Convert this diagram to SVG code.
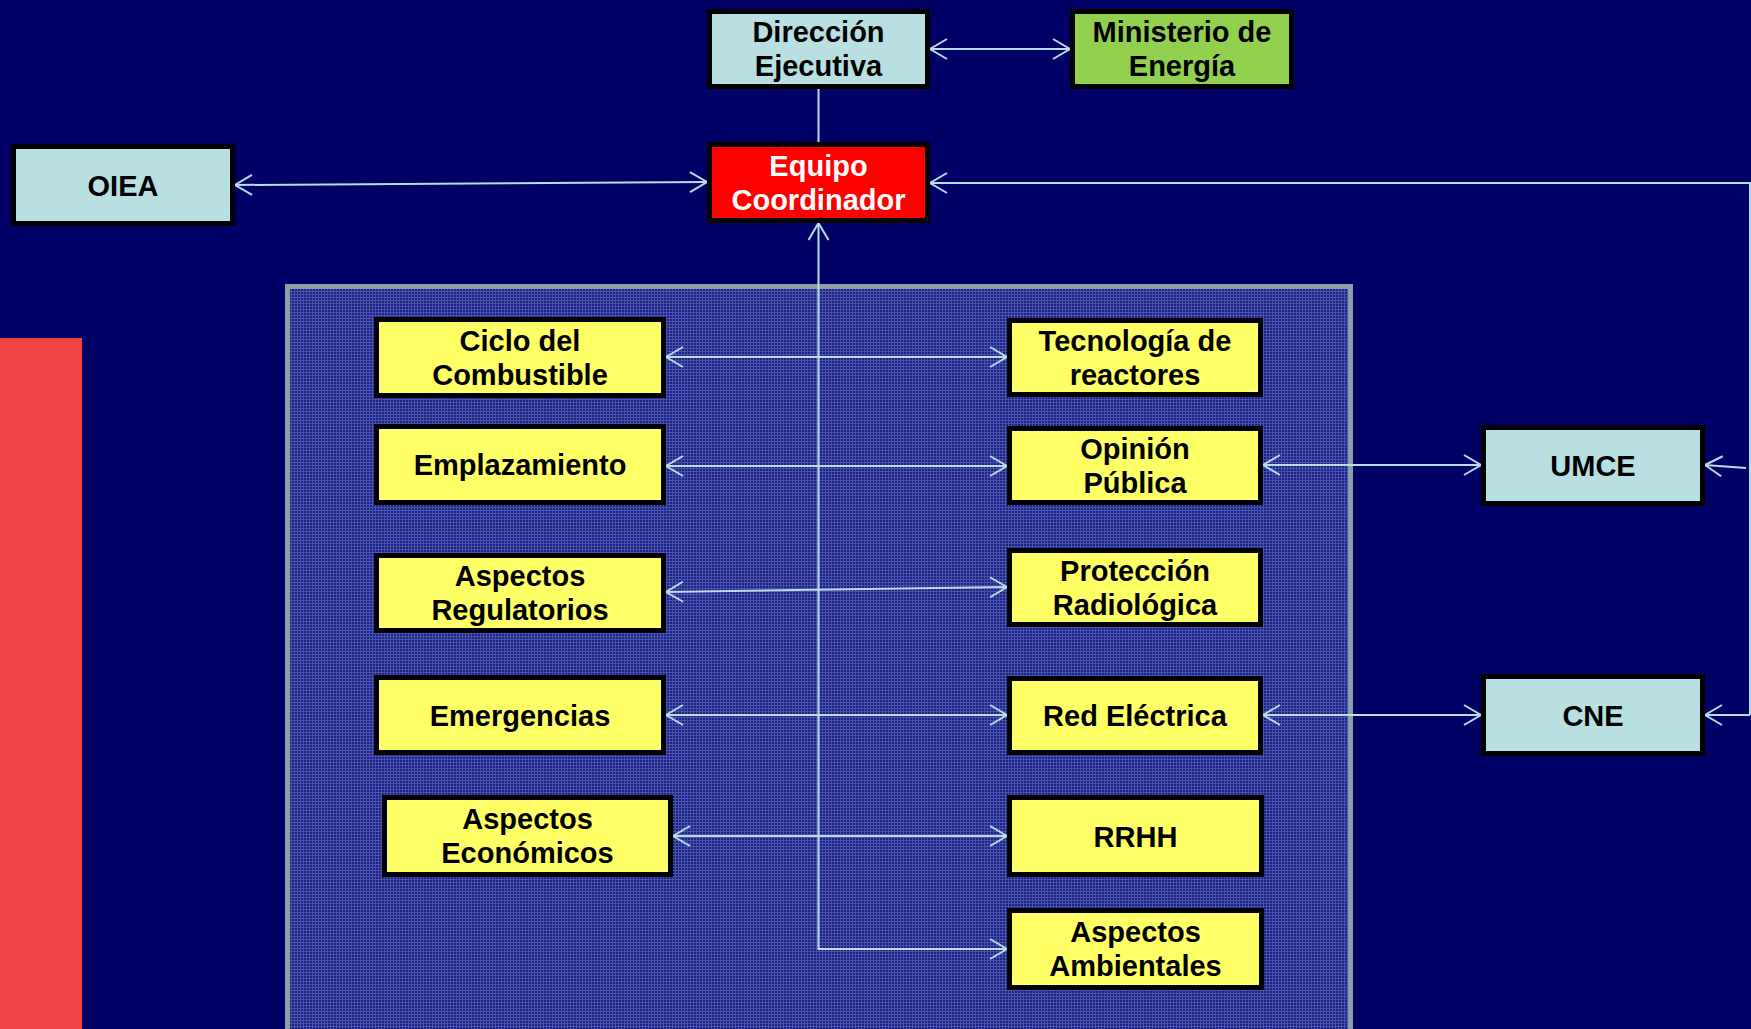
<svg xmlns="http://www.w3.org/2000/svg" width="1751" height="1029" viewBox="0 0 1751 1029">
<defs>
<style>
.box{stroke:#000;stroke-width:5}
.lb{fill:#b8e0e2}
.yb{fill:#ffff66}
.gb{fill:#92d050}
.rb{fill:#ff0000}
text{font-family:"Liberation Sans",Arial,sans-serif;font-weight:bold;font-size:29px;text-anchor:middle;fill:#000}
.wt{fill:#fff}
.cn{fill:none;stroke:#b7dde8;stroke-width:2}
</style>
<marker id="ah" markerUnits="userSpaceOnUse" viewBox="-20 -12 22 24" refX="0" refY="0" markerWidth="22" markerHeight="24" orient="auto-start-reverse">
<path d="M-17,-10 L0,0 L-17,10" fill="none" stroke="#b7dde8" stroke-width="2"/>
</marker>
<pattern id="grid" width="3" height="3" patternUnits="userSpaceOnUse">
<rect width="3" height="3" fill="#1c2282"/>
<rect width="3" height="1" fill="#4a52b0"/>
<rect width="1" height="3" fill="#4a52b0"/>
</pattern>
</defs>
<rect width="1751" height="1029" fill="#000066"/>
<rect x="0" y="338" width="82" height="691" fill="#f04346"/>
<rect x="287.5" y="286.5" width="1063" height="760" fill="url(#grid)" stroke="#8aa0a4" stroke-width="5"/>

<g id="connectors">
<line class="cn" x1="930" y1="49" x2="1070" y2="49" marker-start="url(#ah)" marker-end="url(#ah)"/>
<line class="cn" x1="818.5" y1="89" x2="818.5" y2="142"/>
<line class="cn" x1="235" y1="185" x2="707" y2="182" marker-start="url(#ah)" marker-end="url(#ah)"/>
<path class="cn" d="M1750,715 L1750,183 L930,183" marker-end="url(#ah)"/>
<line class="cn" x1="1750" y1="715" x2="1705" y2="715" marker-end="url(#ah)"/>
<line class="cn" x1="1746" y1="468" x2="1705" y2="465" marker-end="url(#ah)"/>
<path class="cn" d="M818.5,223 L818.5,949 L1007,949" marker-start="url(#ah)" marker-end="url(#ah)"/>
<line class="cn" x1="666" y1="357" x2="1007" y2="357" marker-start="url(#ah)" marker-end="url(#ah)"/>
<line class="cn" x1="666" y1="466" x2="1007" y2="466" marker-start="url(#ah)" marker-end="url(#ah)"/>
<line class="cn" x1="666" y1="592" x2="1007" y2="587" marker-start="url(#ah)" marker-end="url(#ah)"/>
<line class="cn" x1="666" y1="715" x2="1007" y2="715" marker-start="url(#ah)" marker-end="url(#ah)"/>
<line class="cn" x1="673" y1="836" x2="1007" y2="836" marker-start="url(#ah)" marker-end="url(#ah)"/>
<line class="cn" x1="1263" y1="465" x2="1481" y2="465" marker-start="url(#ah)" marker-end="url(#ah)"/>
<line class="cn" x1="1263" y1="715" x2="1481" y2="715" marker-start="url(#ah)" marker-end="url(#ah)"/>
</g>

<g id="direccion"><rect class="box lb" x="709.5" y="11.5" width="218" height="75"/><text x="818.5" y="42">Dirección</text><text x="818.5" y="76">Ejecutiva</text></g>
<g id="ministerio"><rect class="box gb" x="1072.5" y="11.5" width="219" height="75"/><text x="1182" y="42">Ministerio de</text><text x="1182" y="76">Energía</text></g>
<g id="equipo"><rect class="box rb" x="709.5" y="144.5" width="218" height="76"/><text class="wt" x="818.5" y="175.5">Equipo</text><text class="wt" x="818.5" y="209.5">Coordinador</text></g>
<g id="oiea"><rect class="box lb" x="13.5" y="146.5" width="219" height="77"/><text x="123" y="195.5">OIEA</text></g>
<g id="umce"><rect class="box lb" x="1483.5" y="427.5" width="219" height="76"/><text x="1593" y="475.5">UMCE</text></g>
<g id="cne"><rect class="box lb" x="1483.5" y="676.5" width="219" height="77"/><text x="1593" y="725.5">CNE</text></g>

<g id="ciclo"><rect class="box yb" x="376.5" y="319.5" width="287" height="76"/><text x="520" y="350.5">Ciclo del</text><text x="520" y="384.5">Combustible</text></g>
<g id="emplazamiento"><rect class="box yb" x="376.5" y="426.5" width="287" height="76"/><text x="520" y="475">Emplazamiento</text></g>
<g id="regulatorios"><rect class="box yb" x="376.5" y="555.5" width="287" height="75"/><text x="520" y="586">Aspectos</text><text x="520" y="620">Regulatorios</text></g>
<g id="emergencias"><rect class="box yb" x="376.5" y="677.5" width="287" height="75"/><text x="520" y="725.5">Emergencias</text></g>
<g id="economicos"><rect class="box yb" x="384.5" y="797.5" width="286" height="77"/><text x="527.5" y="829">Aspectos</text><text x="527.5" y="863">Económicos</text></g>

<g id="tecnologia"><rect class="box yb" x="1009.5" y="320.5" width="251" height="74"/><text x="1135" y="350.5">Tecnología de</text><text x="1135" y="384.5">reactores</text></g>
<g id="opinion"><rect class="box yb" x="1009.5" y="428.5" width="251" height="74"/><text x="1135" y="458.5">Opinión</text><text x="1135" y="492.5">Pública</text></g>
<g id="proteccion"><rect class="box yb" x="1009.5" y="550.5" width="251" height="74"/><text x="1135" y="580.5">Protección</text><text x="1135" y="614.5">Radiológica</text></g>
<g id="red"><rect class="box yb" x="1009.5" y="678.5" width="251" height="74"/><text x="1135" y="726">Red Eléctrica</text></g>
<g id="rrhh"><rect class="box yb" x="1009.5" y="797.5" width="252" height="77"/><text x="1135.5" y="846.5">RRHH</text></g>
<g id="ambientales"><rect class="box yb" x="1009.5" y="910.5" width="252" height="77"/><text x="1135.5" y="942">Aspectos</text><text x="1135.5" y="976">Ambientales</text></g>
</svg>
